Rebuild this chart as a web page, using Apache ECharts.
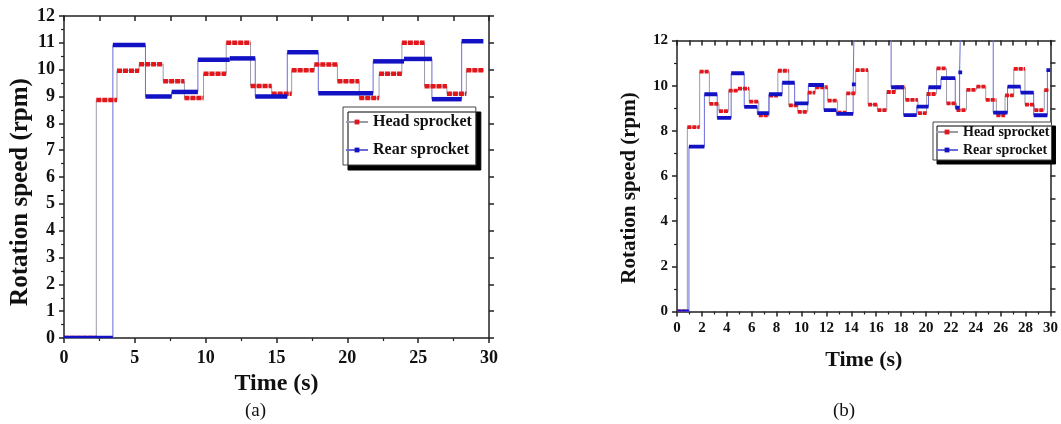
<!DOCTYPE html>
<html><head><meta charset="utf-8">
<script src="https://cdn.jsdelivr.net/npm/echarts@6/dist/echarts.min.js"></script>
<style>html,body{margin:0;padding:0;background:#fff}#c{width:1061px;height:424px}</style>
</head><body><div id="c"></div>
<script>
// ---------------- data ----------------
// Chart (a): boundaries of each constant-speed interval (s) and the speed (rpm) inside it
const headTimesA  = [0, 2.28, 3.74, 5.3, 7.0, 8.5, 9.85, 11.45, 13.17, 14.66, 16.07, 17.67, 19.3, 20.84, 22.24, 23.85, 25.45, 27.03, 28.4, 29.65];
const headSpeedA  = [0, 8.87, 9.96, 10.2, 9.57, 8.94, 9.85, 11.0, 9.39, 9.1, 9.98, 10.19, 9.57, 8.94, 9.85, 11.0, 9.38, 9.1, 9.98];
const rearTimesA  = [0, 3.45, 5.75, 7.6, 9.45, 11.7, 13.5, 15.76, 17.95, 21.82, 24.0, 25.97, 28.07, 29.6];
const rearSpeedA  = [0, 10.92, 9.0, 9.17, 10.37, 10.42, 9.0, 10.65, 9.12, 10.31, 10.4, 8.9, 11.06];
// Chart (b)
const headTimesB  = [0, 0.83, 1.82, 2.6, 3.37, 4.15, 4.9, 5.8, 6.57, 7.4, 8.1, 8.98, 9.7, 10.5, 11.1, 12.1, 12.9, 13.6, 14.35, 15.35, 16.1, 16.85, 17.55, 18.35, 19.35, 20.05, 20.85, 21.65, 22.45, 23.25, 24.05, 24.8, 25.65, 26.35, 27.05, 27.95, 28.7, 29.5, 29.9];
const headSpeedB  = [0, 8.16, 10.62, 9.19, 8.87, 9.78, 9.87, 9.29, 8.69, 9.56, 10.66, 9.13, 8.84, 9.69, 9.93, 9.34, 8.81, 9.66, 10.69, 9.16, 8.92, 9.72, 9.93, 9.37, 8.78, 9.63, 10.77, 9.22, 8.92, 9.81, 9.96, 9.37, 8.69, 9.57, 10.74, 9.16, 8.92, 9.8];
const rearTimesB  = [0, 0.96, 2.2, 3.23, 4.35, 5.4, 6.45, 7.38, 8.45, 9.45, 10.55, 11.8, 12.8, 14.15, 14.25, 17.2, 18.2, 19.25, 20.2, 21.2, 22.35, 22.7, 22.8, 25.4, 26.55, 27.6, 28.65, 29.75, 29.9];
// values above 12 are off the top of the plot (clipped spikes)
const rearSpeedB  = [0, 7.3, 9.62, 8.57, 10.55, 9.06, 8.78, 9.62, 10.13, 9.22, 10.03, 8.92, 8.75, 10.06, 13.5, 9.93, 8.7, 9.07, 9.93, 10.33, 9.03, 10.59, 13.5, 8.81, 9.96, 9.69, 8.69, 10.69];
const seriesNames = ['Head sprocket', 'Rear sprocket'];
const panelLabels = ['(a)', '(b)'];
const xTitle = 'Time (s)';
const yTitle = 'Rotation speed (rpm)';

// ---------------- helpers ----------------
const FONT = "'Liberation Serif','Times New Roman',serif";
const RED = '#e3161c', BLUE = '#1212c4', HEAD_LINE = '#9a9aaa', REAR_LINE = '#6a6ad8';

function stepPoints(b, v) {
  const p = [];
  for (let i = 0; i < v.length; i++) { p.push([b[i], v[i]]); p.push([b[i + 1], v[i]]); }
  return p;
}
function segments(b, v) { return v.map((val, i) => [b[i], b[i + 1], val]); }

function thinSeries(name, gi, b, v, lineColor, dotColor, z) {
  return {
    type: 'line', name, xAxisIndex: gi * 2, yAxisIndex: gi * 2, data: stepPoints(b, v),
    showSymbol: false, symbol: 'rect', symbolSize: 5, silent: true, z,
    lineStyle: { color: lineColor, width: 1 }, itemStyle: { color: dotColor },
    emphasis: { disabled: true }
  };
}
function thickSeries(id, gi, b, v, color, width, dash, z) {
  return {
    type: 'custom', id, xAxisIndex: gi * 2, yAxisIndex: gi * 2, clip: true, silent: true, z,
    encode: { x: [0, 1], y: 2 }, data: segments(b, v),
    renderItem: (params, api) => {
      const val = api.value(2);
      const p0 = api.coord([api.value(0), val]);
      const p1 = api.coord([api.value(1), val]);
      let x1 = p0[0], x2 = p1[0];
      if (x2 - x1 < width) { const m = (x1 + x2) / 2; x1 = m - width / 2; x2 = m + width / 2; }
      return { type: 'line', shape: { x1, y1: p0[1], x2, y2: p1[1] },
               style: { stroke: color, lineWidth: width, lineDash: dash, fill: null } };
    }
  };
}
const axisLineStyle = { color: '#222', width: 1.5 };
function xAxes(gi, interval, topInterval, fs, nameFs, margin, nameGap) {
  return [
    { gridIndex: gi, type: 'value', min: 0, max: 30, interval,
      axisLine: { onZero: false, lineStyle: axisLineStyle },
      axisTick: { length: 5, lineStyle: axisLineStyle },
      minorTick: { show: true, splitNumber: 2, length: 3, lineStyle: { color: '#222', width: 1.2 } },
      splitLine: { show: false }, minorSplitLine: { show: false },
      axisLabel: { fontFamily: FONT, fontWeight: 'bold', fontSize: fs, color: '#111', margin },
      name: xTitle, nameLocation: 'middle', nameGap,
      nameTextStyle: { fontFamily: FONT, fontWeight: 'bold', fontSize: nameFs, color: '#111' } },
    { gridIndex: gi, type: 'value', position: 'top', min: 0, max: 30, interval: topInterval,
      axisLine: { onZero: false, lineStyle: axisLineStyle },
      axisTick: { inside: true, length: 5, lineStyle: axisLineStyle },
      axisLabel: { show: false }, splitLine: { show: false } }
  ];
}
function yAxes(gi, interval, rightInterval, fs, nameFs, margin, nameGap, shift) {
  return [
    { gridIndex: gi, type: 'value', min: 0, max: 12, interval,
      axisLine: { onZero: false, lineStyle: axisLineStyle },
      axisTick: { length: 5, lineStyle: axisLineStyle },
      minorTick: { show: true, splitNumber: 2, length: 3, lineStyle: { color: '#222', width: 1.2 } },
      splitLine: { show: false }, minorSplitLine: { show: false },
      axisLabel: { fontFamily: FONT, fontWeight: 'bold', fontSize: fs, color: '#111', margin },
      name: yTitle, nameLocation: 'middle', nameGap,
      nameTextStyle: { fontFamily: FONT, fontWeight: 'bold', fontSize: nameFs, color: '#111', padding: [0, shift, 0, 0] } },
    { gridIndex: gi, type: 'value', position: 'right', min: 0, max: 12, interval: rightInterval,
      axisLine: { onZero: false, lineStyle: axisLineStyle },
      axisTick: { length: 5, lineStyle: axisLineStyle },
      axisLabel: { show: false }, splitLine: { show: false } }
  ];
}
function legend(left, top, fs, gap, pad, shadow) {
  return {
    left, top, orient: 'vertical', data: seriesNames, selectedMode: false,
    backgroundColor: '#fff', borderColor: '#444', borderWidth: 1, borderRadius: 0,
    shadowColor: '#000', shadowBlur: 0, shadowOffsetX: shadow, shadowOffsetY: shadow,
    padding: pad, itemGap: gap, itemWidth: 22, itemHeight: 6,
    textStyle: { fontFamily: FONT, fontWeight: 'bold', fontSize: fs, color: '#111' }
  };
}

const chart = echarts.init(document.getElementById('c'), null, { renderer: 'canvas' });
chart.setOption({
  animation: false,
  backgroundColor: '#fff',
  title: [
    { text: panelLabels[0], left: 245, top: 402, padding: 0,
      textStyle: { fontFamily: FONT, fontWeight: 'normal', fontSize: 19, color: '#111' } },
    { text: panelLabels[1], left: 833, top: 402, padding: 0,
      textStyle: { fontFamily: FONT, fontWeight: 'normal', fontSize: 19, color: '#111' } }
  ],
  grid: [
    { left: 64, top: 16, width: 425, height: 322 },
    { left: 677, top: 40.5, width: 374, height: 271 }
  ],
  legend: [
    legend(343, 107, 16, 12, [7, 4, 7, 2], 5),
    legend(933, 122, 14, 4, [3, 2, 3, 2], 4)
  ],
  xAxis: [...xAxes(0, 5, 2.5, 18, 24, 11, 34), ...xAxes(1, 2, 1, 15, 22, 9, 38)],
  yAxis: [...yAxes(0, 1, 1, 18, 25, 9, 30, 30), ...yAxes(1, 2, 1, 15, 21, 9, 37, 24)],
  series: [
    thinSeries(seriesNames[0], 0, headTimesA, headSpeedA, HEAD_LINE, RED, 2),
    thinSeries(seriesNames[1], 0, rearTimesA, rearSpeedA, REAR_LINE, BLUE, 2),
    thickSeries('headA', 0, headTimesA, headSpeedA, RED, 4.5, [5, 1], 3),
    thickSeries('rearA', 0, rearTimesA, rearSpeedA, BLUE, 4.5, null, 4),
    thinSeries(seriesNames[0], 1, headTimesB, headSpeedB, HEAD_LINE, RED, 2),
    thinSeries(seriesNames[1], 1, rearTimesB, rearSpeedB, REAR_LINE, BLUE, 2),
    thickSeries('headB', 1, headTimesB, headSpeedB, RED, 3.8, [4, 1], 3),
    thickSeries('rearB', 1, rearTimesB, rearSpeedB, BLUE, 3.8, null, 4)
  ]
});
</script></body></html>
